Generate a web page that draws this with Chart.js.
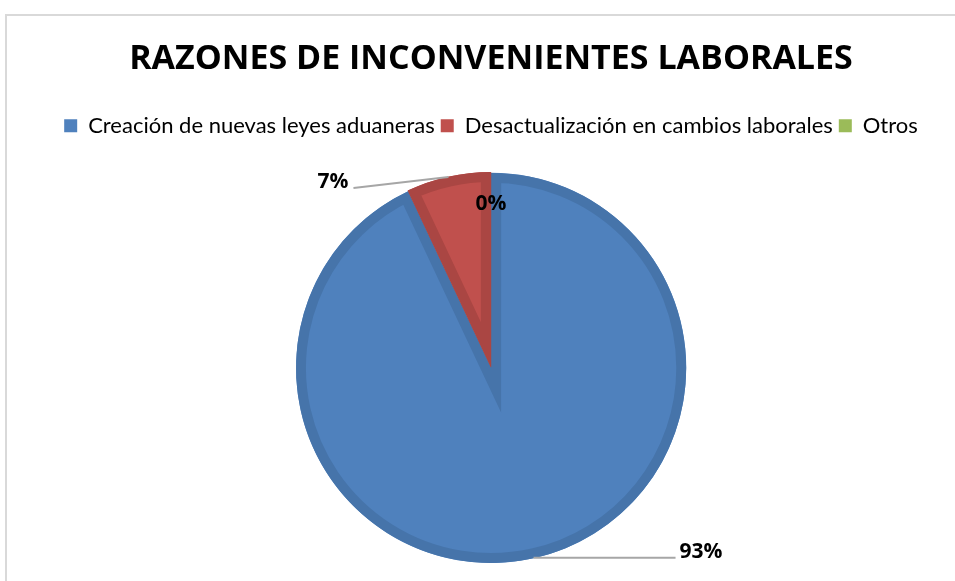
<!DOCTYPE html>
<html>
<head>
<meta charset="utf-8">
<script src="https://cdn.jsdelivr.net/npm/chart.js@4.4.0/dist/chart.umd.min.js"></script>
<style>
  html, body { margin: 0; padding: 0; background: #fff; overflow: hidden; }
  #wrap { position: relative; width: 955px; height: 640px; }
  #frame { position: absolute; left: 5px; top: 14px; width: 1000px; height: 700px;
           border-top: 2px solid #d9d9d9; border-left: 2px solid #d9d9d9; }
  #chart { position: absolute; left: 0; top: 0; }
</style>
</head>
<body>
<div id="wrap">
  <div id="frame"></div>
  <canvas id="chart" width="955" height="640"></canvas>
</div>
<script>
var categories = ['Creación de nuevas leyes aduaneras', 'Desactualización en cambios laborales', 'Otros'];
var values = [93, 7, 0];
var fillColors = ['#4f81bd', '#c0504d', '#9bbb59'];
var edgeColors = ['#4674aa', '#aa4643', '#89a54e'];

// Percent labels with leader lines, drawn like Excel does
var pieLabels = {
  id: 'pieLabels',
  afterDatasetsDraw: function(chart) {
    var ctx = chart.ctx;
    var meta = chart.getDatasetMeta(0);
    var total = values.reduce(function(a, b) { return a + b; }, 0);
    ctx.save();
    ctx.font = 'bold 21px "Open Sans"';
    ctx.fillStyle = '#000';
    ctx.strokeStyle = '#a6a6a6';
    ctx.lineWidth = 2;
    for (var i = 0; i < meta.data.length; i++) {
      var p = meta.data[i].getProps(['x', 'y', 'startAngle', 'endAngle', 'outerRadius'], true);
      var mid = (p.startAngle + p.endAngle) / 2;
      var text = Math.round(values[i] / total * 100) + '%';
      var ex = p.x + Math.cos(mid) * p.outerRadius;
      var ey = p.y + Math.sin(mid) * p.outerRadius;
      if (i === 0) {
        ctx.beginPath(); ctx.moveTo(ex, ey); ctx.lineTo(ex + 142, ey); ctx.stroke();
        ctx.textAlign = 'left'; ctx.textBaseline = 'middle';
        ctx.fillText(text, ex + 146, ey - 6);
      } else if (i === 1) {
        ctx.beginPath(); ctx.moveTo(ex, ey); ctx.lineTo(ex - 95, ey + 11); ctx.stroke();
        ctx.textAlign = 'right'; ctx.textBaseline = 'middle';
        ctx.fillText(text, ex - 100, ey + 5);
      } else {
        var r = p.outerRadius * 0.84;
        ctx.textAlign = 'center'; ctx.textBaseline = 'middle';
        ctx.fillText(text, p.x + Math.cos(mid) * r, p.y + Math.sin(mid) * r);
      }
    }
    ctx.restore();
  }
};

new Chart(document.getElementById('chart'), {
  type: 'pie',
  data: {
    labels: categories,
    datasets: [{
      data: values,
      backgroundColor: fillColors,
      borderColor: edgeColors,
      borderWidth: 10,
      borderAlign: 'inner',
      borderJoinStyle: 'miter',
      offset: 2
    }]
  },
  options: {
    responsive: false,
    animation: false,
    radius: 195,
    layout: { padding: { left: 27, top: 14, bottom: 52 } },
    plugins: {
      title: {
        display: true,
        text: 'RAZONES DE INCONVENIENTES LABORALES',
        color: '#000',
        font: { family: '"Open Sans"', size: 34, weight: 'bold' },
        padding: { top: 25, bottom: 29 }
      },
      legend: {
        position: 'top',
        labels: {
          color: '#000',
          font: { family: 'Lato', size: 22 },
          boxWidth: 13,
          boxHeight: 13,
          padding: 6,
          generateLabels: function(chart) {
            var items = Chart.overrides.pie.plugins.legend.labels.generateLabels(chart);
            items.forEach(function(item) { item.lineWidth = 0; item.strokeStyle = item.fillStyle; });
            return items;
          }
        }
      },
      tooltip: { enabled: false }
    }
  },
  plugins: [pieLabels]
});
</script>
</body>
</html>
